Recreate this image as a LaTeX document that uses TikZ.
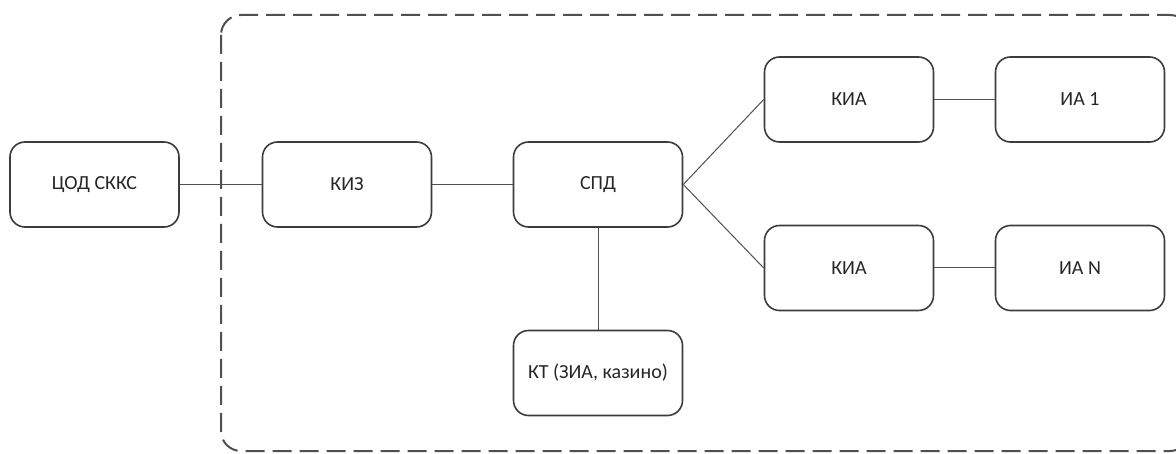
\documentclass[tikz,border=0pt]{standalone}
\usepackage{fontspec}
\setmainfont{Carlito}
\definecolor{boxline}{HTML}{3C3C3C}
\definecolor{conn}{HTML}{505050}
\begin{document}
\begin{tikzpicture}[x=1pt,y=-1pt,
  blk/.style={draw=boxline,line width=1.6pt,rounded corners=15pt,minimum width=169pt,minimum height=85pt,inner sep=0pt,font=\fontsize{20}{24}\selectfont,text=black!85,fill=white},
  link/.style={draw=conn,line width=1pt}]
\useasboundingbox (0,0) rectangle (1176,454);
\clip (0,0) rectangle (1176,454);
\draw[draw=conn,line width=2pt,dash pattern=on 19pt off 8pt,rounded corners=20pt] (221,15) rectangle (1190,451);
\node[blk] (cod) at (94.5,184.5) {ЦОД СККС};
\node[blk] (kiz) at (347,184.5) {КИЗ};
\node[blk] (spd) at (598,184.5) {СПД};
\node[blk] (kt) at (598,373) {КТ (ЗИА, казино)};
\node[blk] (kia1) at (849,99.5) {КИА};
\node[blk] (ia1) at (1080,99.5) {ИА 1};
\node[blk] (kia2) at (849,268) {КИА};
\node[blk] (ian) at (1080,268) {ИА N};
\draw[link] (cod) -- (kiz);
\draw[link] (kiz) -- (spd);
\draw[link] (spd) -- (kt);
\draw[link] (spd.east) -- (kia1.west);
\draw[link] (spd.east) -- (kia2.west);
\draw[link] (kia1) -- (ia1);
\draw[link] (kia2) -- (ian);
\end{tikzpicture}
\end{document}
